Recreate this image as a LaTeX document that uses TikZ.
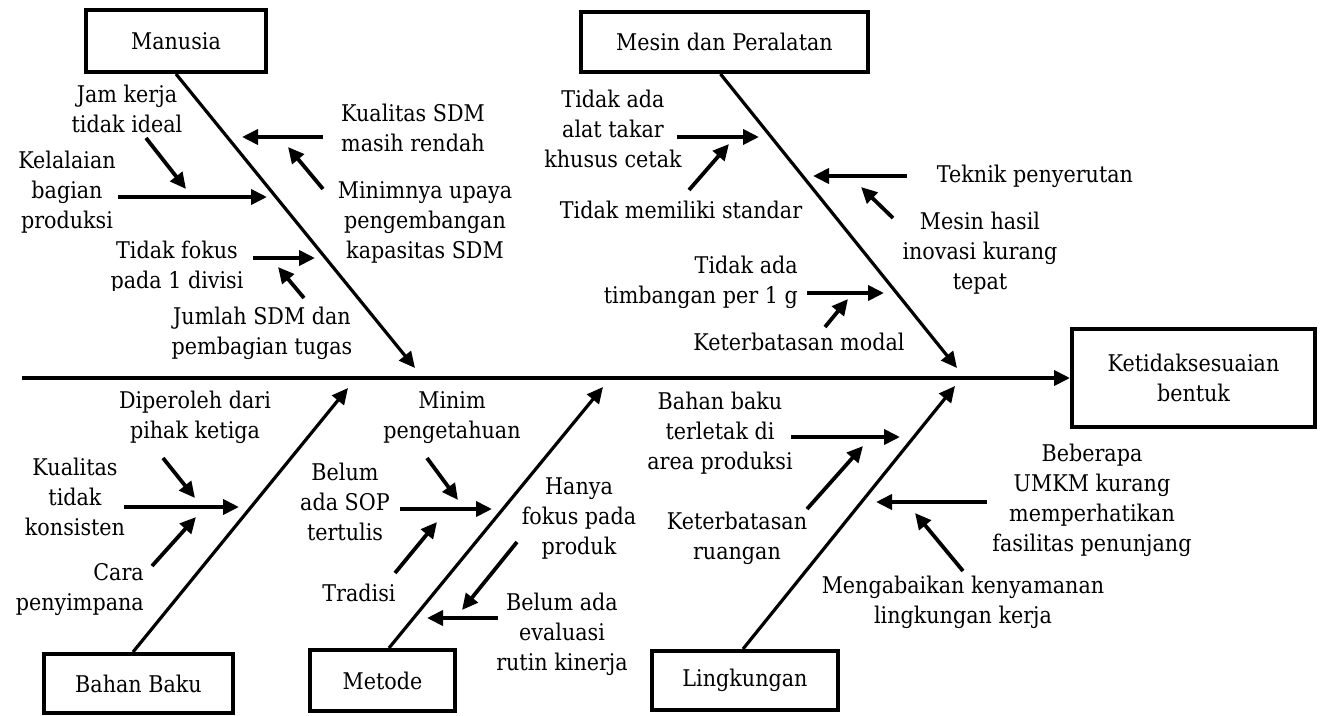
\documentclass[tikz,border=0pt]{standalone}
\usepackage{fontspec}
\setmainfont{DejaVu Serif}[FakeStretch=0.9]
\usetikzlibrary{arrows.meta}
\tikzset{
  lbl/.style={align=center, inner sep=0pt, font=\fontsize{23}{30}\selectfont},
  catbox/.style={draw, line width=4pt, inner sep=0pt, align=center, font=\fontsize{23}{30}\selectfont},
  bonearrow/.style={line width=3.2pt, -{Triangle[length=16pt,width=15pt]}},
  spinearrow/.style={line width=3.8pt, -{Triangle[length=16pt,width=15pt]}},
  cause/.style={line width=3.8pt, -{Triangle[length=16pt,width=15pt]}},
}
\begin{document}
\begin{tikzpicture}[x=1pt,y=-1pt]
\useasboundingbox[fill=white] (0,0) rectangle (1322,715);

% category boxes
\node[catbox, minimum width=180pt, minimum height=62pt] (manusia) at (176,41) {Manusia};
\node[catbox, minimum width=287pt, minimum height=60pt] (mesin) at (724.5,42) {Mesin dan Peralatan};
\node[catbox, minimum width=189pt, minimum height=59pt] (bahan) at (138.5,683.5) {Bahan Baku};
\node[catbox, minimum width=145pt, minimum height=61pt] (metode) at (382.5,680.5) {Metode};
\node[catbox, minimum width=186pt, minimum height=59pt] (lingk) at (745,680.5) {Lingkungan};
\node[catbox, minimum width=243pt, minimum height=98pt] (result) at (1193.5,378) {Ketidaksesuaian\\bentuk};

% spine
\coordinate (spineS) at (22,378);
\draw[spinearrow] (spineS) -- (result.west);

% bones
\coordinate (mT) at (415,368);
\coordinate (eT) at (957,368);
\coordinate (bT) at (348,388);
\coordinate (oT) at (603,387);
\coordinate (lT) at (955,386);
\draw[bonearrow] (manusia.south) -- (mT);
\draw[bonearrow] ([xshift=-4pt]mesin.south) -- (eT);
\draw[bonearrow] ([xshift=-5.5pt]bahan.north) -- (bT);
\draw[bonearrow] ([xshift=6.5pt]metode.north) -- (oT);
\draw[bonearrow] ([xshift=-2pt]lingk.north) -- (lT);

% labels - Manusia
\node[lbl] (t1) at (413,128) {Kualitas SDM\\masih rendah};
\node[lbl] (t2) at (425,222) {Minimnya upaya\\pengembangan\\kapasitas SDM};
\node[lbl] (t3) at (127,109) {Jam kerja\\tidak ideal};
\node[lbl] (t4) at (67,192) {Kelalaian\\bagian\\produksi};
\begin{scope}
\clip (90,225) rectangle (270,290);
\node[lbl] (t5) at (177,267) {Tidak fokus\\pada 1 divisi};
\end{scope}
\node[lbl] (t6) at (262,333) {Jumlah SDM dan\\pembagian tugas};

% labels - Mesin
\node[lbl] (t7) at (613,129) {Tidak ada\\alat takar\\khusus cetak};
\node[lbl] (t8) at (681,210) {Tidak memiliki standar};
\node[lbl] (t9) at (1035,176) {Teknik penyerutan};
\node[lbl] (t10) at (980,253) {Mesin hasil\\inovasi kurang\\tepat};
\node[lbl, align=right, anchor=east] (t11) at (798,282) {Tidak ada\\timbangan per 1 g};
\node[lbl] (t12) at (799,342) {Keterbatasan modal};

% labels - Bahan Baku
\node[lbl] (t13) at (195,417) {Diperoleh dari\\pihak ketiga};
\node[lbl] (t14) at (75,497) {Kualitas\\tidak\\konsisten};
\node[lbl, align=right, anchor=east] (t15) at (144,590) {Cara\\penyimpana};

% labels - Metode
\node[lbl] (t16) at (345,502) {Belum\\ada SOP\\tertulis};
\node[lbl] (t17) at (452,418) {Minim\\pengetahuan};
\node[lbl] (t18) at (359,593) {Tradisi};
\node[lbl] (t19) at (579,519) {Hanya\\fokus pada\\produk};
\node[lbl] (t20) at (562,634) {Belum ada\\evaluasi\\rutin kinerja};

% labels - Lingkungan
\node[lbl] (t21) at (720,433) {Bahan baku\\terletak di\\area produksi};
\node[lbl] (t22) at (737,538) {Keterbatasan\\ruangan};
\node[lbl] (t23) at (1092,500) {Beberapa\\UMKM kurang\\memperhatikan\\fasilitas penunjang};
\node[lbl] (t24) at (963,602) {Mengabaikan kenyamanan\\lingkungan kerja};

% cause arrows
\coordinate (a1s) at (323,137);  \coordinate (a1e) at (242,137);
\coordinate (a2s) at (323,189);  \coordinate (a2e) at (288,147);
\coordinate (a3s) at (146,138);  \coordinate (a3e) at (186,189);
\coordinate (a4s) at (118,197);  \coordinate (a4e) at (267,197);
\coordinate (a5s) at (253,258);  \coordinate (a5e) at (315,258);
\coordinate (a6s) at (304,298);  \coordinate (a6e) at (278,267);
\coordinate (a7s) at (677,137);  \coordinate (a7e) at (759,137);
\coordinate (a8s) at (689,190);  \coordinate (a8e) at (729,144);
\coordinate (a9s) at (907,176);  \coordinate (a9e) at (813,176);
\coordinate (a10s) at (893,218); \coordinate (a10e) at (861,187);
\coordinate (a11s) at (807,293); \coordinate (a11e) at (884,293);
\coordinate (a12s) at (825,327); \coordinate (a12e) at (848,299);
\coordinate (a13s) at (163,458); \coordinate (a13e) at (195,498);
\coordinate (a14s) at (124,507); \coordinate (a14e) at (239,507);
\coordinate (a15s) at (152,566); \coordinate (a15e) at (196,517);
\coordinate (a16s) at (400,509); \coordinate (a16e) at (492,509);
\coordinate (a17s) at (427,458); \coordinate (a17e) at (458,500);
\coordinate (a18s) at (395,573); \coordinate (a18e) at (437,522);
\coordinate (a19s) at (517,542); \coordinate (a19e) at (462,610);
\coordinate (a20s) at (498,618); \coordinate (a20e) at (427,618);
\coordinate (a21s) at (791,437); \coordinate (a21e) at (900,437);
\coordinate (a22s) at (807,509); \coordinate (a22e) at (863,446);
\coordinate (a23s) at (987,502); \coordinate (a23e) at (876,502);
\coordinate (a24s) at (963,571); \coordinate (a24e) at (915,513);
\foreach \i in {1,...,24}{\draw[cause] (a\i s) -- (a\i e);}
\end{tikzpicture}
\end{document}
